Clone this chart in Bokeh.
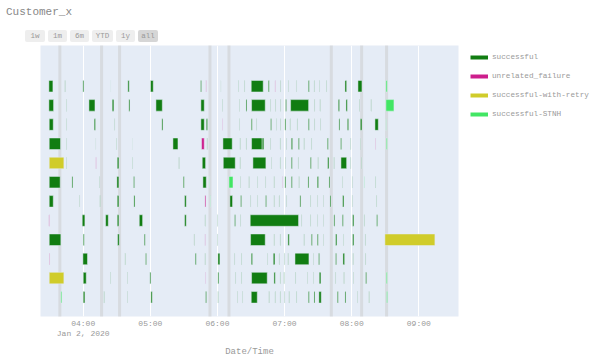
import pandas as pd
from bokeh.plotting import figure
from bokeh.models import (ColumnDataSource, Range1d, FixedTicker, CustomJSTickFormatter,
                          Span, Legend, LegendItem, Div)
from bokeh.layouts import column
from bokeh.embed import file_html
from bokeh.resources import INLINE

# ---------------- data ----------------
BASE = "2020-01-02 04:00"          # all start offsets are minutes after this time
title_text = "Customer_x"
x_label = "Date/Time"
statuses = ["successful", "unrelated_failure", "successful-with-retry", "successful-STNH"]
status_code = {"S": "successful", "U": "unrelated_failure", "R": "successful-with-retry", "T": "successful-STNH"}
status_colors = ["#117d12", "#cd1e8c", "#d0cc2a", "#42e664"]
buttons = ["1w", "1m", "6m", "YTD", "1y", "all"]

F, M = 0.3, 0.9   # short runs (durations in minutes)

# (start offset [min], duration [min], status)
row_01 = [(-30.7, 3.6, "S"), (-16.4, F, "S"), (-0.3, M, "S"), (24.4, 0.1, "S"), (39.9, 1.2, "S"),
          (60.2, 2.4, "S"), (104.9, M, "S"), (109.7, F, "U"), (123.1, 0.1, "S"), (138.6, F, "S"),
          (144.3, F, "S"), (150.2, 10.7, "S"), (165.4, M, "S"), (171.4, F, "U"), (176.5, F, "S"),
          (183.3, F, "S"), (190.5, F, "S"), (201.2, M, "S"), (206.3, F, "S"), (211.0, F, "S"),
          (217.6, F, "S"), (234.0, 1.5, "S"), (245.6, 3.6, "S"), (270.6, 1.2, "T")]
row_02 = [(-30.7, 4.2, "S"), (-15.2, F, "S"), (5.1, 5.4, "S"), (25.9, 1.5, "S"), (40.8, 1.0, "S"),
          (65.0, 5.7, "S"), (105.2, 3.0, "S"), (124.3, F, "S"), (139.5, F, "S"), (145.5, M, "S"),
          (150.5, 12.2, "S"), (167.5, F, "S"), (172.0, F, "S"), (176.5, F, "S"), (180.9, M, "S"),
          (185.4, 16.1, "S"), (206.9, F, "S"), (211.6, F, "S"), (228.0, 1.2, "S"), (234.9, 1.2, "S"),
          (247.1, F, "S"), (257.2, F, "S"), (270.6, 7.2, "T")]
row_03 = [(-30.4, 3.6, "S"), (-15.2, F, "S"), (9.8, 1.2, "S"), (28.0, F, "S"), (70.3, 1.0, "S"),
          (105.2, 3.0, "S"), (110.0, 1.2, "S"), (124.3, F, "U"), (139.5, F, "S"), (150.2, M, "S"),
          (155.0, F, "S"), (167.5, M, "S"), (172.6, F, "S"), (176.5, F, "S"), (180.3, M, "S"),
          (184.8, F, "S"), (191.1, F, "S"), (201.2, M, "S"), (206.9, F, "S"), (212.2, F, "S"),
          (228.6, M, "S"), (236.1, 1.2, "S"), (247.7, 1.5, "S"), (260.8, 3.0, "S"), (270.6, F, "T")]
row_04 = [(-30.4, 10.1, "S"), (-15.2, F, "S"), (11.3, 0.1, "S"), (29.5, F, "S"), (43.8, 0.1, "S"),
          (80.2, 4.5, "S"), (105.8, 2.4, "U"), (110.6, F, "S"), (124.9, 8.3, "S"), (140.1, F, "S"),
          (145.5, F, "S"), (150.5, 9.5, "S"), (160.0, 1.5, "S"), (167.5, F, "S"), (175.9, F, "S"),
          (181.8, F, "S"), (186.0, 1.2, "S"), (192.3, M, "S"), (197.3, F, "S"), (204.2, F, "S"),
          (218.2, M, "S"), (230.1, M, "S"), (239.0, F, "S"), (247.7, F, "S"), (261.4, F, "U"),
          (270.9, M, "T")]
row_05 = [(-30.4, 13.1, "R"), (-15.2, F, "S"), (11.3, F, "U"), (30.4, 1.5, "S"), (43.8, F, "S"),
          (85.5, F, "S"), (106.4, 3.0, "S"), (125.2, 10.7, "S"), (140.1, F, "S"), (151.7, 11.6, "S"),
          (168.1, F, "S"), (175.9, F, "S"), (180.9, F, "S"), (186.0, M, "S"), (192.0, F, "S"),
          (203.0, M, "S"), (209.8, F, "S"), (218.5, 1.2, "S"), (224.1, F, "S"), (230.4, 5.1, "S"),
          (239.0, F, "S"), (248.9, F, "S")]
row_06 = [(-30.4, 9.8, "S"), (-10.1, M, "S"), (14.3, F, "S"), (30.1, 1.8, "S"), (45.0, M, "S"),
          (89.4, M, "S"), (107.0, 3.0, "S"), (112.7, F, "T"), (130.3, 3.6, "T"), (140.4, F, "S"),
          (148.1, F, "S"), (155.6, F, "S"), (163.0, F, "S"), (170.5, F, "S"), (177.9, F, "U"),
          (180.3, M, "S"), (186.0, M, "S"), (192.8, F, "S"), (200.9, M, "S"), (209.2, 1.2, "S"),
          (219.7, M, "S"), (231.6, F, "S"), (240.5, F, "S"), (251.0, F, "T"), (261.4, F, "S")]
row_07 = [(-30.4, 3.6, "S"), (-3.3, F, "S"), (14.9, F, "S"), (30.4, 1.5, "S"), (45.3, 1.0, "S"),
          (90.6, 1.5, "S"), (108.8, M, "U"), (113.9, F, "T"), (131.1, 2.4, "S"), (140.7, M, "S"),
          (149.6, F, "S"), (155.6, F, "S"), (163.0, M, "S"), (170.5, F, "S"), (175.0, F, "S"),
          (181.8, F, "S"), (193.7, M, "S"), (203.3, F, "S"), (209.2, F, "S"), (214.6, F, "S"),
          (220.6, M, "S"), (231.9, 1.2, "S"), (240.5, F, "S"), (262.3, F, "S")]
row_08 = [(-30.7, 0.4, "U"), (-0.9, 2.4, "S"), (20.0, 2.4, "S"), (30.4, 1.5, "S"), (50.1, 3.0, "S"),
          (90.6, 1.5, "S"), (108.8, F, "S"), (119.8, F, "S"), (135.3, M, "S"), (140.7, F, "S"),
          (149.3, 43.2, "S"), (195.2, F, "S"), (203.3, F, "S"), (209.2, F, "S"), (214.6, F, "S"),
          (224.1, M, "S"), (231.6, M, "S"), (240.8, 1.2, "S"), (251.0, F, "S"), (262.3, M, "S")]
row_09 = [(-30.4, 10.4, "S"), (0.0, M, "S"), (30.7, 1.5, "S"), (54.5, M, "S"), (99.0, F, "S"),
          (108.8, F, "U"), (119.8, F, "S"), (149.6, 13.1, "S"), (170.5, F, "S"), (175.9, F, "S"),
          (183.0, 1.2, "S"), (197.3, F, "S"), (203.9, M, "S"), (209.2, M, "S"), (214.6, F, "S"),
          (225.6, 1.2, "S"), (232.5, F, "S"), (240.8, 1.2, "S"), (251.9, F, "S"), (269.7, 44.7, "R")]
row_10 = [(-30.4, 0.4, "U"), (-0.3, 4.1, "S"), (37.3, F, "S"), (55.7, M, "S"), (100.1, M, "S"),
          (108.8, F, "S"), (120.4, 1.8, "S"), (135.3, F, "S"), (141.6, F, "S"), (150.2, 1.2, "S"),
          (164.5, F, "S"), (169.9, 1.5, "S"), (175.0, F, "S"), (180.0, F, "S"), (183.0, F, "S"),
          (189.3, 12.5, "S"), (205.7, F, "S"), (210.4, M, "S"), (225.6, M, "S"), (232.2, 1.5, "S"),
          (241.1, F, "S"), (252.5, F, "S")]
row_11 = [(-30.4, 13.1, "R"), (0.0, 2.7, "S"), (24.4, F, "S"), (39.3, F, "S"), (59.6, M, "S"),
          (109.1, F, "U"), (120.4, M, "S"), (136.2, F, "S"), (141.6, F, "S"), (150.5, 14.0, "S"),
          (170.5, 1.2, "S"), (175.9, F, "S"), (179.4, F, "S"), (189.9, F, "S"), (200.3, F, "S"),
          (205.7, F, "S"), (211.0, 1.5, "S"), (225.6, F, "S"), (233.0, F, "S"), (241.4, F, "S"),
          (252.5, M, "S"), (270.9, M, "T")]
row_12 = [(-20.0, M, "T"), (0.0, 1.5, "S"), (18.5, F, "S"), (39.3, F, "S"), (60.5, 1.2, "S"),
          (109.4, M, "S"), (120.4, F, "S"), (137.7, F, "S"), (142.2, F, "S"), (150.2, 5.4, "S"),
          (166.0, F, "S"), (171.4, F, "S"), (175.9, F, "S"), (180.0, F, "S"), (183.9, F, "S"),
          (190.8, F, "S"), (201.2, M, "S"), (206.3, M, "S"), (210.7, 2.1, "S"), (227.1, M, "S"),
          (234.0, M, "S"), (245.0, F, "S"), (255.4, F, "S"), (271.2, M, "T")]
rows = [row_01, row_02, row_03, row_04, row_05, row_06, row_07, row_08, row_09, row_10, row_11, row_12]

# event markers (minutes after BASE)
marker_min = [-20.9, 16.4, 32.5, 113.3, 130.3, 221.8, 248.9, 271.2]
# hourly ticks
tick_hours = ["04:00", "05:00", "06:00", "07:00", "08:00", "09:00"]
# visible window (minutes after BASE)
view_min = (-38.2, 335.5)

# ---------------- build ----------------
base = pd.Timestamp(BASE)
def at(m):
    return base + pd.Timedelta(minutes=m)

def ms(ts):
    return ts.value / 1e6

n_rows = len(rows)
p = figure(frame_width=418, frame_height=271, output_backend="svg", toolbar_location=None,
           x_axis_type="datetime",
           x_range=Range1d(at(view_min[0]), at(view_min[1])),
           y_range=Range1d(n_rows - 0.0, -2.12),
           min_border_left=40, min_border_right=20, min_border_top=0, min_border_bottom=43,
           background_fill_color="#E5ECF6", border_fill_color="white", outline_line_color=None)

# markers
for m in marker_min:
    p.add_layout(Span(location=ms(at(m)), dimension="height", line_color="#cacaca",
                      line_width=3, line_dash="1 1", level="underlay"))

nan = float("nan")
legend_items = []
for st, col in zip(statuses, status_colors):
    left, right, top, bottom = [], [], [], []
    for i, r in enumerate(rows):
        for s, d, c in r:
            if status_code[c] != st:
                continue
            left.append(at(s)); right.append(at(s + d))
            top.append(i - 0.3); bottom.append(i + 0.3)
    src = ColumnDataSource(dict(left=left, right=right, top=top, bottom=bottom))
    p.quad(left="left", right="right", top="top", bottom="bottom", source=src,
           fill_color=col, line_color="#E5ECF6", line_width=0.5)
    # legend-only swatch (no visible data)
    dummy = p.line(x=[nan, nan], y=[nan, nan], line_color=col, line_width=4)
    legend_items.append(LegendItem(label=st, renderers=[dummy]))

legend = Legend(items=legend_items, location=(12, 196), orientation="vertical",
                background_fill_alpha=0, border_line_color=None, padding=0, margin=12,
                glyph_width=18, glyph_height=12, label_height=12, label_standoff=4, spacing=7,
                label_text_font="Liberation Mono", label_text_font_size="7.7px",
                label_text_color="#999999")
p.add_layout(legend, "right")

tick_vals = [ms(pd.Timestamp(BASE[:11] + h)) for h in tick_hours]
p.xaxis.ticker = FixedTicker(ticks=tick_vals)
p.xaxis.formatter = CustomJSTickFormatter(code="""
const d = new Date(tick);
const h = String(d.getUTCHours()).padStart(2, "0");
const m = String(d.getUTCMinutes()).padStart(2, "0");
let s = h + ":" + m;
if (index == 0) {
  const mons = ["Jan","Feb","Mar","Apr","May","Jun","Jul","Aug","Sep","Oct","Nov","Dec"];
  s += "\\n" + mons[d.getUTCMonth()] + " " + d.getUTCDate() + ", " + d.getUTCFullYear();
}
return s;
""")
p.xaxis.axis_label = x_label
p.xaxis.axis_label_text_font = "Liberation Mono"
p.xaxis.axis_label_text_font_size = "9px"
p.xaxis.axis_label_text_font_style = "normal"
p.xaxis.axis_label_text_color = "#999999"
p.xaxis.axis_label_standoff = 6
p.xaxis.major_label_text_font = "Liberation Mono"
p.xaxis.major_label_text_font_size = "8px"
p.xaxis.major_label_text_color = "#999999"
p.xaxis.major_label_standoff = 2
p.xaxis.major_tick_out = 0
p.xaxis.major_tick_in = 0
p.xaxis.minor_tick_out = 0
p.xaxis.minor_tick_in = 0
p.xaxis.axis_line_color = None
p.xaxis.major_tick_line_color = None
p.xaxis.minor_tick_line_color = None
p.xgrid.ticker = FixedTicker(ticks=tick_vals)
p.xgrid.grid_line_color = "white"
p.xgrid.grid_line_width = 1
p.yaxis.visible = False
p.ygrid.visible = False

# header: title + range selector buttons
btn_left = [25, 48, 70, 92, 116, 138]
btn_width = [20, 19, 19, 21, 19, 20]
btn_html = ""
for b, l, w in zip(buttons, btn_left, btn_width):
    active = (b == "all")
    bg = "#d6d6d6" if active else "#eeeeee"
    btn_html += (f'<div style="position:absolute;left:{l}px;top:30px;width:{w}px;height:12px;'
                 f'background:{bg};border-radius:2px;font-size:7.5px;line-height:12px;'
                 f'text-align:center;color:#999;">{b}</div>')
header = Div(text=(f'<div style="position:relative;width:600px;height:45px;'
                   f'font-family:\'Liberation Mono\',monospace;">'
                   f'<div style="position:absolute;left:6px;top:5px;font-size:11px;'
                   f'line-height:14px;color:#888;">{title_text}</div>{btn_html}</div>'),
             width=600, height=45, margin=(0, 0, 0, 0))

layout = column(header, p, spacing=0)
open("out.html", "w").write(file_html(layout, INLINE))
